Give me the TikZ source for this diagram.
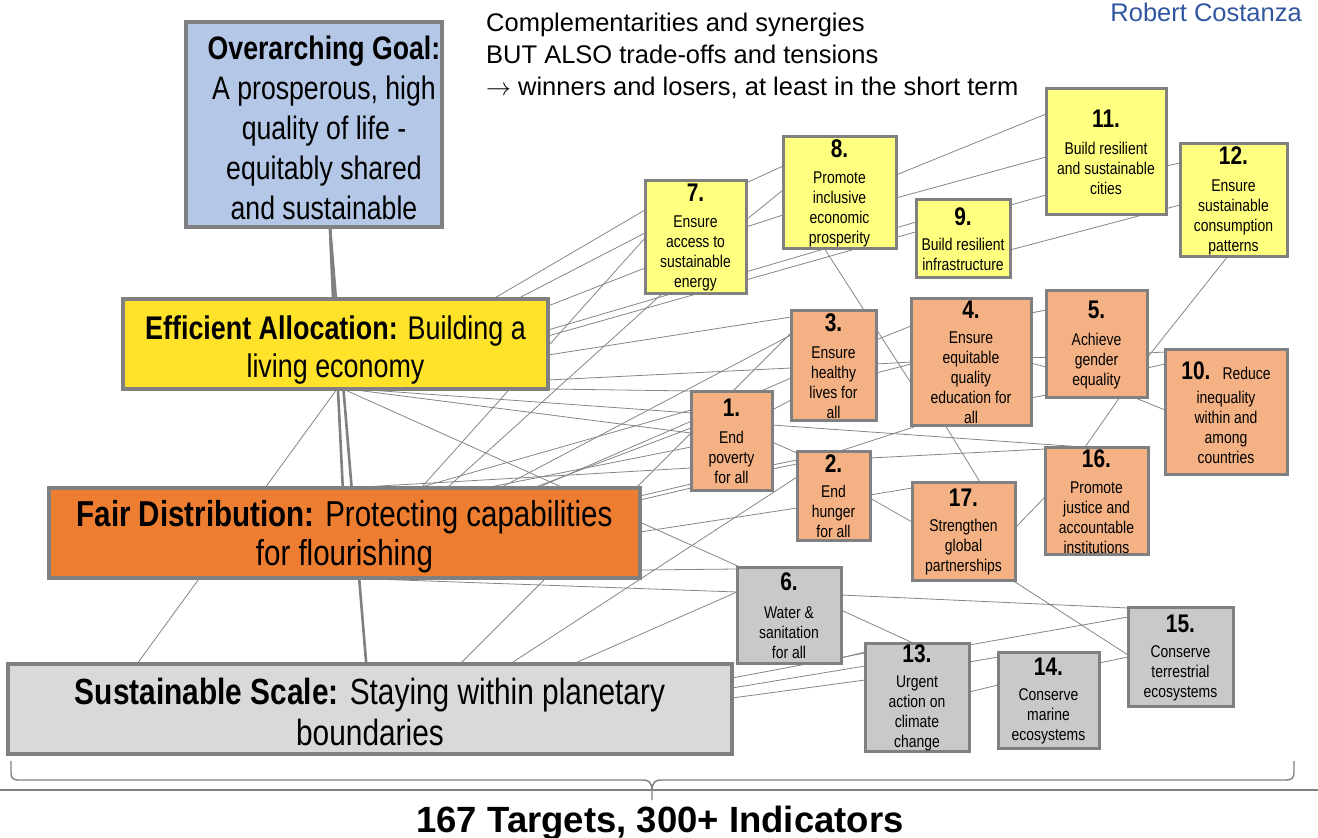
\documentclass[tikz,border=0pt]{standalone}
\usepackage{fontspec}
\setmainfont{Liberation Sans}
\newfontfamily\narrow{Liberation Sans}[FakeStretch=0.82]
\usetikzlibrary{calc}
\pgfdeclarelayer{bg}
\pgfsetlayers{bg,main}
\definecolor{ogc}{HTML}{B4C7E7}
\definecolor{eac}{HTML}{FFE32B}
\definecolor{fdc}{HTML}{ED7D31}
\definecolor{ssc}{HTML}{D9D9D9}
\definecolor{yc}{HTML}{FFFF80}
\definecolor{oc}{HTML}{F4B183}
\definecolor{gc}{HTML}{C9C9C9}
\definecolor{bc}{HTML}{808080}
\definecolor{lc}{HTML}{858585}
\definecolor{rcc}{HTML}{3156A0}
\tikzset{
  box/.style={draw=bc, line width=3, inner sep=0pt, outer sep=0pt, anchor=north west},
  mainbox/.style={box, line width=3.5},
  maintxt/.style={align=center, inner sep=0pt},
  sdgbox/.style={box, line width=3},
  sdgtxt/.style={font=\narrow\fontsize{17}{20}\selectfont, align=center, inner sep=0pt},
  ln/.style={draw=lc, line width=0.8},
  thk/.style={draw=bc, line width=2.6},
  brc/.style={draw=bc, line width=1.4},
  sepl/.style={draw=bc, line width=1.1},
}
\newcommand\lnk[6]{\draw[ln] ([shift={(#2,#3)}]#1.north west) -- ([shift={(#5,#6)}]#4.north west);}
\newcommand\thklnk[6]{\draw[thk] ([shift={(#2,#3)}]#1.north west) -- ([shift={(#5,#6)}]#4.north west);}
\newcommand\num[1]{{\bfseries\fontsize{25.5}{20}\selectfont #1}}
\newcommand\sdg[7]{%
  \node[sdgbox, fill=#2, minimum width=#5, minimum height=#6] (#1) at (#3,#4) {};
  \node[sdgtxt] (#1t) at ([yshift=-1]#1.center) {#7};}
\begin{document}
\begin{tikzpicture}[x=1pt,y=-1pt]
\useasboundingbox (0,0) rectangle (1318,838);

% main boxes
\node[mainbox, fill=ogc, minimum width=256, minimum height=205] (og) at (186,22) {};
\node[maintxt, font=\narrow\fontsize{32.5}{40}\selectfont] (ogt) at ([shift={(10,3)}]og.center)
  {\textbf{Overarching Goal:}\\A prosperous, high\\quality of life -\\equitably shared\\and sustainable};
\node[mainbox, fill=eac, minimum width=425, minimum height=90] (ea) at (123,299) {};
\node[maintxt, font=\narrow\fontsize{32.8}{38}\selectfont] (eat) at ([shift={(0,6)}]ea.center)
  {\textbf{Efficient Allocation:} Building a\\living economy};
\node[mainbox, fill=fdc, minimum width=591, minimum height=90] (fd) at (49,488) {};
\node[maintxt, font=\narrow\fontsize{36}{39}\selectfont] (fdt) at ([shift={(0,4)}]fd.center)
  {\textbf{Fair Distribution:} Protecting capabilities\\for flourishing};
\node[mainbox, fill=ssc, minimum width=724, minimum height=90] (ss) at (8,664) {};
\node[maintxt, font=\narrow\fontsize{36.4}{41}\selectfont] (sst) at ([shift={(0,3)}]ss.center)
  {\textbf{Sustainable Scale:} Staying within planetary\\boundaries};

% SDG boxes
\sdg{n7}{yc}{645}{180}{101}{113}{\num{7.}\\[6pt]Ensure\\access to\\sustainable\\energy}
\sdg{n8}{yc}{783}{136}{113}{112}{\num{8.}\\[6pt]Promote\\inclusive\\economic\\prosperity}
\sdg{n9}{yc}{916}{199}{94}{78}{\num{9.}\\[5pt]Build resilient\\infrastructure}
\sdg{n11}{yc}{1046}{88}{120}{126}{\num{11.}\\[7pt]Build resilient\\and sustainable\\cities}
\sdg{n12}{yc}{1180}{143}{107}{113}{\num{12.}\\[7pt]Ensure\\sustainable\\consumption\\patterns}
\sdg{n3}{oc}{791}{310}{85}{110}{\num{3.}\\[7pt]Ensure\\healthy\\lives for\\all}
\sdg{n4}{oc}{911}{298}{120}{127}{\num{4.}\\[5pt]Ensure\\equitable\\quality\\education for\\all}
\sdg{n5}{oc}{1046}{290}{101}{107}{\num{5.}\\[7pt]Achieve\\gender\\equality}
\sdg{n10}{oc}{1165}{349}{122}{125}{\num{10.}\hspace{12pt}Reduce\\[4pt]inequality\\within and\\among\\countries}
\sdg{n1}{oc}{691}{391}{81}{99}{\num{1.}\\[7pt]End\\poverty\\for all}
\sdg{n2}{oc}{797}{451}{73}{89}{\num{2.}\\[5pt]End\\hunger\\for all}
\sdg{n17}{oc}{912}{482}{103}{98}{\num{17.}\\[5pt]Strengthen\\global\\partnerships}
\sdg{n16}{oc}{1045}{447}{103}{107}{\num{16.}\\[6pt]Promote\\justice and\\accountable\\institutions}
\sdg{n6}{gc}{737}{567}{104}{96}{\num{6.}\\[8pt]Water \&\\sanitation\\for all}
\sdg{n13}{gc}{865}{643}{104}{108}{\num{13.}\\[5pt]Urgent\\action on\\climate\\change}
\sdg{n14}{gc}{998}{652}{101}{96}{\num{14.}\\[5pt]Conserve\\marine\\ecosystems}
\sdg{n15}{gc}{1128}{607}{105}{99}{\num{15.}\\[5pt]Conserve\\terrestrial\\ecosystems}

% texts
\node[anchor=base west, inner sep=0pt, font=\fontsize{25.5}{32}\selectfont] (c1) at (486,31) {Complementarities and synergies};
\node[anchor=base west, inner sep=0pt, font=\fontsize{25.5}{32}\selectfont] (c2) at (486,63) {BUT ALSO trade-offs and tensions};
\node[anchor=base west, inner sep=0pt, font=\fontsize{25.5}{32}\selectfont] (c3) at (486,95) {{\fontsize{23}{32}\selectfont$\rightarrow$} winners and losers, at least in the short term};
\node[anchor=base east, inner sep=0pt, text=rcc, font=\fontsize{25.5}{28}\selectfont] (rc) at (1302,21) {Robert Costanza};
\node[anchor=base, inner sep=0pt, font=\bfseries\fontsize{36.5}{40}\selectfont] (tgt) at (660,832) {167 Targets, 300+ Indicators};

% brace and separator
\draw[sepl] (0,790) -- (1318,790);
\draw[brc] (11,761) -- (11,772) .. controls (11,779) and (13,780) .. (20,780) -- (642,780) .. controls (649,780) and (651,782) .. (652,789) -- (652,800);
\draw[brc] (652,789) .. controls (653,782) and (655,780) .. (662,780) -- (1285,780) .. controls (1292,780) and (1294,778) .. (1294,772) -- (1294,761);

\begin{pgfonlayer}{bg}
% thick lines from overarching goal
\thklnk{og}{144}{205}{ea}{212}{45}
\thklnk{og}{144}{205}{fd}{296}{45}
\thklnk{og}{144}{205}{ss}{362}{45}
% thin lines
\lnk{ea}{370}{0}{n7}{0}{30}
\lnk{ea}{394}{0}{n7}{0}{53}
\lnk{ea}{425}{7}{n7}{0}{88}
\lnk{fd}{372}{0}{n7}{0}{58}
\lnk{fd}{398}{0}{n7}{18}{113}
\lnk{ea}{425}{31}{n9}{0}{23}
\lnk{ea}{425}{37}{n11}{0}{107}
\lnk{ea}{425}{56}{n3}{0}{7}
\lnk{ea}{425}{81}{n3}{0}{58}
\lnk{ea}{425}{90}{n1}{2}{0}
\lnk{ea}{220}{90}{n6}{3}{0}
\lnk{ea}{232}{90}{n1}{0}{22}
\lnk{ea}{225}{90}{n1}{0}{42}
\lnk{ea}{214}{90}{ss}{129}{0}
\lnk{fd}{369}{0}{n1}{0}{19}
\lnk{fd}{484}{0}{n1}{0}{37}
\lnk{fd}{436}{0}{n1}{0}{56}
\lnk{fd}{296}{0}{n1}{0}{77}
\lnk{fd}{451}{0}{n3}{0}{25}
\lnk{fd}{488}{0}{n3}{0}{68}
\lnk{ss}{452}{0}{n3}{0}{23}
\lnk{ss}{502}{0}{n2}{0}{26}
\lnk{ss}{565}{0}{n6}{0}{25}
\lnk{fd}{591}{82}{n6}{0}{2}
\lnk{fd}{295}{90}{n6}{0}{25}
\lnk{fd}{591}{12}{n1}{0}{97}
\lnk{fd}{591}{8}{n1}{0}{93}
\lnk{fd}{591}{44}{n2}{0}{57}
\lnk{ss}{724}{14}{n13}{0}{10}
\lnk{ss}{724}{24}{n13}{0}{23}
\lnk{ss}{724}{34}{n13}{0}{37}
\lnk{n6}{104}{91}{n13}{0}{9}
\lnk{n6}{104}{43}{n13}{48}{0}
\lnk{n6}{104}{28}{n15}{0}{1}
\lnk{n13}{104}{2}{n15}{0}{10}
\lnk{n13}{104}{19}{n14}{0}{5}
\lnk{n13}{104}{49}{n14}{0}{33}
\lnk{n14}{101}{11}{n15}{0}{50}
\lnk{n17}{100}{98}{n15}{0}{48}
\lnk{n2}{73}{7}{n16}{0}{2}
\lnk{n2}{73}{44}{n17}{0}{6}
\lnk{n2}{73}{47}{n17}{0}{40}
\lnk{n17}{103}{46}{n16}{0}{50}
\lnk{n16}{40}{0}{n5}{74}{107}
\lnk{n1}{81}{34}{n16}{38}{0}
\lnk{n2}{43}{0}{n4}{9}{127}
\lnk{n1}{81}{51}{n2}{0}{2}
\lnk{n1}{81}{74}{n2}{0}{9}
\lnk{n1}{81}{78}{n2}{0}{13}
\lnk{n1}{81}{19}{n3}{0}{90}
\lnk{n3}{85}{30}{n4}{0}{28}
\lnk{n3}{85}{54}{n4}{0}{64}
\lnk{n3}{85}{63}{n4}{0}{66}
\lnk{n8}{41}{112}{n4}{0}{85}
\lnk{n4}{34}{127}{n17}{68}{0}
\lnk{n4}{120}{15}{n5}{0}{20}
\lnk{n4}{120}{59}{n5}{0}{67}
\lnk{n4}{120}{65}{n5}{0}{77}
\lnk{n4}{120}{100}{n5}{0}{105}
\lnk{n5}{101}{63}{n10}{0}{3}
\lnk{n5}{101}{78}{n10}{0}{15}
\lnk{n5}{87}{107}{n10}{0}{61}
\lnk{n12}{48}{113}{n5}{101}{68}
\lnk{n9}{94}{51}{n12}{0}{62}
\lnk{n11}{120}{78}{n12}{0}{20}
\lnk{n8}{113}{39}{n11}{0}{26}
\lnk{n8}{113}{62}{n11}{0}{69}
\lnk{n7}{101}{3}{n8}{0}{30}
\lnk{n7}{101}{40}{n8}{0}{54}
\lnk{n7}{101}{47}{n8}{0}{79}
\end{pgfonlayer}
\end{tikzpicture}
\end{document}
